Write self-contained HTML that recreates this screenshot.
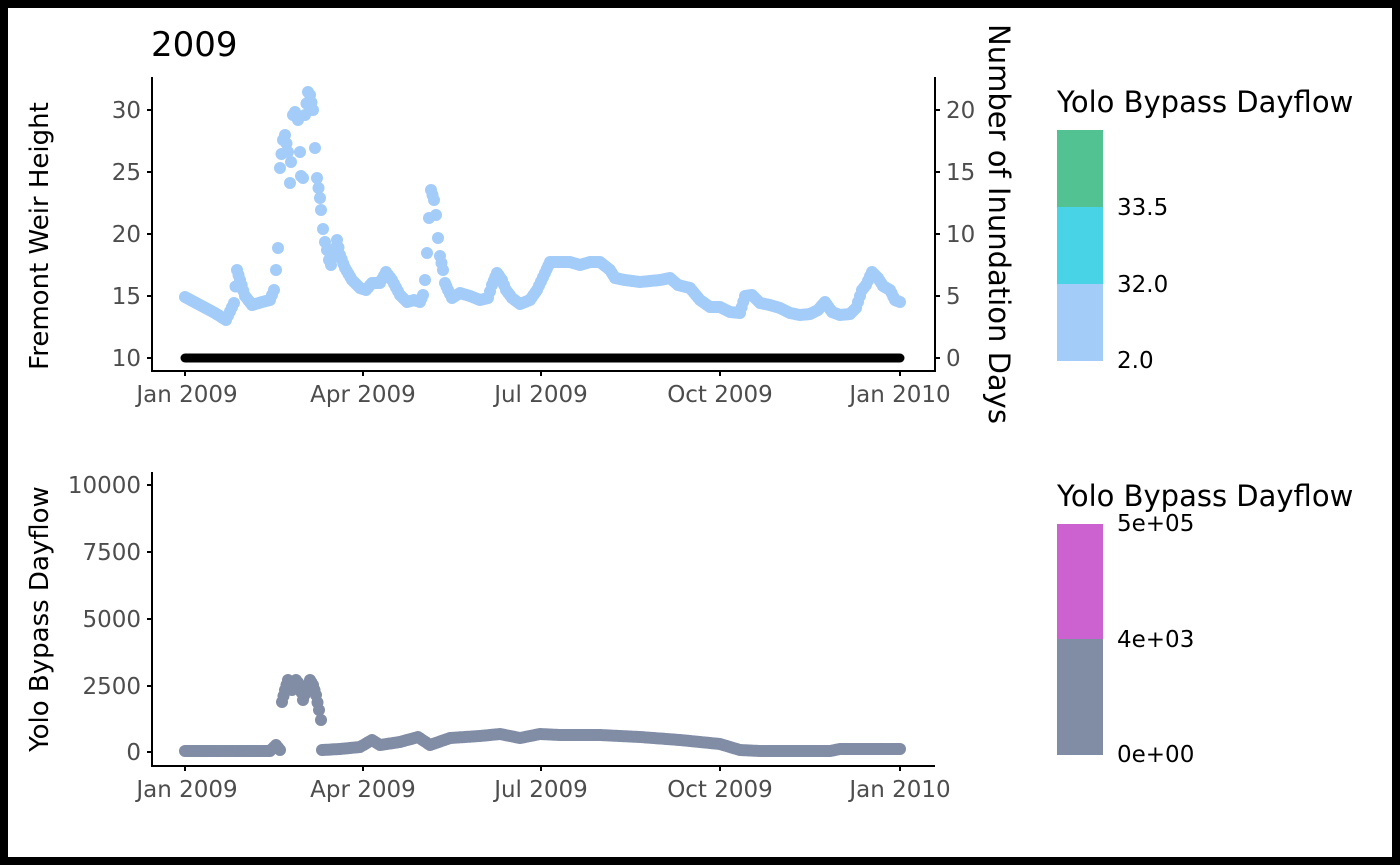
<!DOCTYPE html>
<html><head><meta charset="utf-8"><style>
html,body{margin:0;padding:0;background:#000;}
svg{display:block;font-family:"DejaVu Sans","Liberation Sans",sans-serif;}
</style></head><body>
<svg id="s" width="1400" height="865" xmlns="http://www.w3.org/2000/svg">
<rect x="0" y="0" width="1400" height="865" fill="#000"/>
<rect x="8" y="8" width="1384" height="849" fill="#fff"/>
<text x="151" y="56" font-size="34" fill="#000">2009</text>
<g stroke="#000" stroke-width="2" fill="none">
<path d="M152,77 V371 H935 V77"/>
<path d="M147,358 H152 M147,296 H152 M147,234 H152 M147,172 H152 M147,110 H152"/>
<path d="M935,358 H940 M935,296 H940 M935,234 H940 M935,172 H940 M935,110 H940"/>
<path d="M185,371 V376 M363,371 V376 M541,371 V376 M720,371 V376 M900,371 V376"/>
</g>
<g font-size="23" fill="#4d4d4d" text-anchor="end">
<text x="141" y="366">10</text><text x="141" y="304">15</text><text x="141" y="242">20</text><text x="141" y="180">25</text><text x="141" y="118">30</text>
</g>
<g font-size="23" fill="#4d4d4d" text-anchor="start">
<text x="946" y="366">0</text><text x="946" y="304">5</text><text x="946" y="242">10</text><text x="946" y="180">15</text><text x="946" y="118">20</text>
</g>
<g font-size="23" fill="#4d4d4d" text-anchor="middle">
<text x="187" y="402">Jan 2009</text><text x="363" y="402">Apr 2009</text><text x="541" y="402">Jul 2009</text><text x="720" y="402">Oct 2009</text><text x="900" y="402">Jan 2010</text>
<text x="187" y="797">Jan 2009</text><text x="363" y="797">Apr 2009</text><text x="541" y="797">Jul 2009</text><text x="720" y="797">Oct 2009</text><text x="900" y="797">Jan 2010</text>
</g>
<text transform="translate(48,236) rotate(-90)" font-size="26" text-anchor="middle" fill="#000">Fremont Weir Height</text>
<text transform="translate(989,224) rotate(90)" font-size="29" text-anchor="middle" fill="#000">Number of Inundation Days</text>
<g id="topg"></g>
<line x1="185" y1="358" x2="900" y2="358" stroke="#000" stroke-width="9" stroke-linecap="round"/>
<g stroke="#000" stroke-width="2" fill="none">
<path d="M152,472 V766 H935"/>
<path d="M147,752 H152 M147,686 H152 M147,619 H152 M147,552 H152 M147,485 H152"/>
<path d="M185,766 V771 M363,766 V771 M541,766 V771 M720,766 V771 M900,766 V771"/>
</g>
<g font-size="23" fill="#4d4d4d" text-anchor="end">
<text x="141" y="760">0</text><text x="141" y="694">2500</text><text x="141" y="627">5000</text><text x="141" y="560">7500</text><text x="141" y="493">10000</text>
</g>
<text transform="translate(48,619) rotate(-90)" font-size="26" text-anchor="middle" fill="#000">Yolo Bypass Dayflow</text>
<g id="botg"></g>
<text x="1057" y="112" font-size="29" fill="#000">Yolo Bypass Dayflow</text>
<rect x="1057" y="130" width="46" height="77" fill="#52C293"/>
<rect x="1057" y="207" width="46" height="77" fill="#48D3E6"/>
<rect x="1057" y="284" width="46" height="77" fill="#A3CCF9"/>
<g font-size="23" fill="#000"><text x="1117" y="215">33.5</text><text x="1117" y="292">32.0</text><text x="1117" y="368">2.0</text></g>
<text x="1057" y="506" font-size="29" fill="#000">Yolo Bypass Dayflow</text>
<rect x="1057" y="524" width="46" height="116" fill="#CC62D0"/>
<rect x="1057" y="639" width="46" height="116" fill="#818CA5"/>
<g font-size="23" fill="#000"><text x="1117" y="531">5e+05</text><text x="1117" y="647">4e+03</text><text x="1117" y="762">0e+00</text></g>
</svg>
<script>
function drawPts(id,pts,col,r,step){
  var g=document.getElementById(id),h="";
  for(var i=0;i<pts.length-1;i++){
    var a=pts[i],b=pts[i+1],dx=b[0]-a[0],n=Math.max(1,Math.round(Math.abs(dx)/step));
    for(var k=0;k<n;k++){var t=k/n;h+='<circle cx="'+(a[0]+dx*t).toFixed(1)+'" cy="'+(a[1]+(b[1]-a[1])*t).toFixed(1)+'" r="'+r+'" fill="'+col+'"/>';}
  }
  var l=pts[pts.length-1];h+='<circle cx="'+l[0]+'" cy="'+l[1]+'" r="'+r+'" fill="'+col+'"/>';
  g.innerHTML=h;
}
var topPts=[[185,297],[200,305],[215,313],[226,320],[234,303],[237,270],[240,280],[245,296],[252,305],[262,302],[270,300],[274,290],[276,270],[278,248],[280,168],[283,140],[285,135],[288,152],[290,183],[291,162],[293,115],[295,112],[298,120],[300,152],[301,176],[303,178],[305,115],[308,92],[310,95],[313,110],[315,148],[317,178],[320,198],[321,210],[323,229],[325,242],[327,250],[329,260],[331,265],[337,240],[340,255],[345,268],[352,280],[360,288],[366,290],[372,283],[380,283],[386,272],[392,280],[400,295],[407,302],[414,300],[420,302],[423,295],[425,280],[427,253],[429,218],[431,190],[434,200],[436,215],[438,238],[440,256],[443,270],[445,283],[448,290],[452,298],[460,293],[470,296],[480,300],[488,298],[492,285],[497,273],[502,280],[506,290],[512,298],[520,304],[530,300],[537,290],[545,273],[550,262],[560,262],[570,262],[580,265],[590,262],[600,262],[610,270],[615,278],[625,280],[640,282],[660,280],[670,278],[678,285],[690,288],[700,300],[710,307],[720,307],[730,312],[740,313],[745,296],[752,295],[760,303],[770,305],[780,308],[790,313],[800,315],[810,314],[818,310],[825,302],[832,312],[840,315],[850,314],[856,308],[862,290],[866,285],[872,272],[878,278],[883,286],[890,290],[895,300],[900,302]];
drawPts("topg",topPts,"#A3CCF9",6,2);
var botPts=[[185,751],[270,751],[276,745],[280,750],[282,702],[285,690],[288,680],[292,690],[296,680],[300,685],[303,700],[306,690],[310,680],[313,685],[316,695],[319,710],[321,720],[322,750],[340,749],[360,747],[372,740],[380,745],[400,742],[418,737],[430,745],[450,738],[480,736],[500,734],[520,738],[540,734],[560,735],[600,735],[640,737],[680,740],[720,744],[740,750],[760,751],[830,751],[840,749],[900,749]];
drawPts("botg",botPts,"#818CA5",6,2);
</script>
</body></html>
